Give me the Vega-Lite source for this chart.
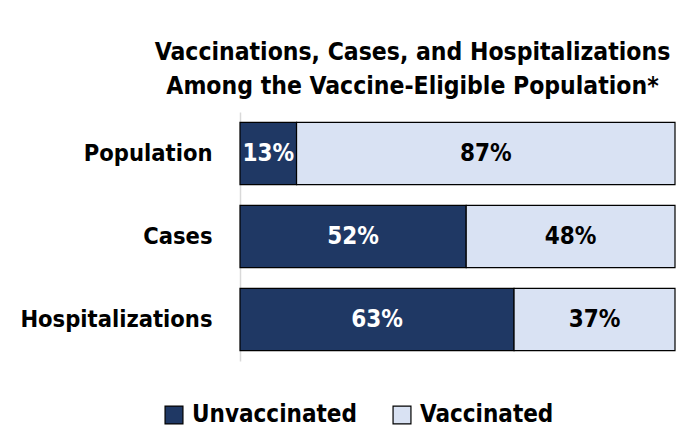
{
  "$schema": "https://vega.github.io/schema/vega-lite/v6.json",
  "width": 435,
  "height": 249,
  "autosize": "none",
  "padding": {"left": 240, "top": 112, "right": 5, "bottom": 80},
  "background": "white",
  "config": {
    "font": "DejaVu Sans Condensed, sans-serif",
    "view": {"stroke": null}
  },
  "title": {
    "text": ["Vaccinations, Cases, and Hospitalizations", "Among the Vaccine-Eligible Population*"],
    "fontSize": 24.5,
    "fontWeight": "bold",
    "lineHeight": 34,
    "anchor": "middle",
    "dx": -45,
    "offset": 13,
    "color": "#000000",
    "font": "DejaVu Sans Condensed, sans-serif"
  },
  "data": {
    "values": [
      {"category": "Population", "status": "Unvaccinated", "share": 0.13, "order": 1},
      {"category": "Population", "status": "Vaccinated", "share": 0.87, "order": 2},
      {"category": "Cases", "status": "Unvaccinated", "share": 0.52, "order": 1},
      {"category": "Cases", "status": "Vaccinated", "share": 0.48, "order": 2},
      {"category": "Hospitalizations", "status": "Unvaccinated", "share": 0.63, "order": 1},
      {"category": "Hospitalizations", "status": "Vaccinated", "share": 0.37, "order": 2}
    ]
  },
  "transform": [
    {"stack": "share", "groupby": ["category"], "sort": [{"field": "order", "order": "ascending"}], "as": ["x0", "x1"]},
    {"calculate": "(datum.x0 + datum.x1) / 2", "as": "xmid"}
  ],
  "encoding": {
    "y": {
      "field": "category",
      "type": "nominal",
      "sort": ["Population", "Cases", "Hospitalizations"],
      "scale": {"paddingInner": 0.25, "paddingOuter": 0.125},
      "axis": {
        "title": null,
        "ticks": false,
        "domainColor": "#d9d9d9",
        "domainWidth": 1.5,
        "labelFontSize": 23.5,
        "labelFontWeight": "bold",
        "labelColor": "#000000",
        "labelPadding": 28,
        "labelLimit": 0,
        "labelFont": "DejaVu Sans Condensed, sans-serif"
      }
    }
  },
  "layer": [
    {
      "mark": {"type": "bar", "stroke": "#000000", "strokeWidth": 1.2},
      "encoding": {
        "x": {"field": "x0", "type": "quantitative", "scale": {"domain": [0, 1]}, "axis": null},
        "x2": {"field": "x1"},
        "color": {
          "field": "status",
          "type": "nominal",
          "scale": {"domain": ["Unvaccinated", "Vaccinated"], "range": ["#1F3864", "#D9E2F3"]},
          "legend": {
            "title": null,
            "orient": "none",
            "direction": "horizontal",
            "legendX": -78,
            "legendY": 291,
            "symbolType": "square",
            "symbolSize": 320,
            "symbolStrokeColor": "#000000",
            "symbolStrokeWidth": 1.2,
            "labelFontSize": 24,
            "labelFontWeight": "bold",
            "labelColor": "#000000",
            "labelOffset": 6,
            "labelLimit": 0,
            "columnPadding": 33,
            "labelFont": "DejaVu Sans Condensed, sans-serif"
          }
        }
      }
    },
    {
      "mark": {"type": "text", "fontSize": 24, "fontWeight": "bold", "baseline": "middle", "align": "center"},
      "encoding": {
        "x": {"field": "xmid", "type": "quantitative", "scale": {"domain": [0, 1]}},
        "text": {"field": "share", "type": "quantitative", "format": ".0%"},
        "color": {
          "condition": {"test": "datum.status === 'Unvaccinated'", "value": "#ffffff"},
          "value": "#000000"
        }
      }
    }
  ]
}
